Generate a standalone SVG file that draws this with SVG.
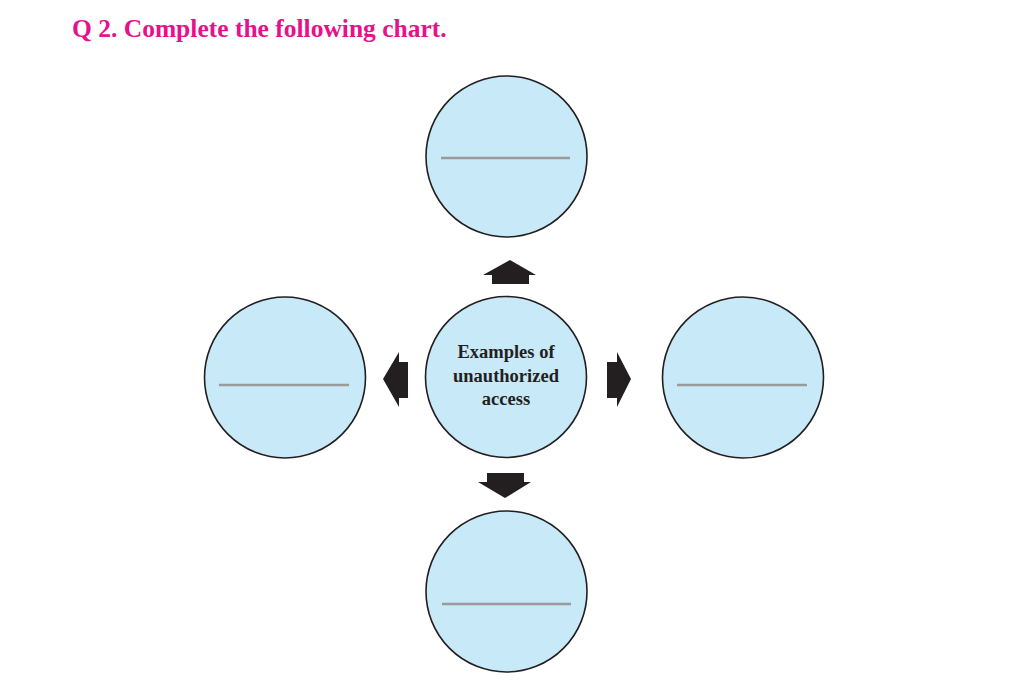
<svg xmlns="http://www.w3.org/2000/svg" width="1024" height="689" viewBox="0 0 1024 689">
<style>
.bg{fill:#ffffff}
.title{font-family:"Liberation Serif","Times New Roman",serif;font-weight:bold;font-size:25.5px;fill:#E8118C}
.node{fill:#C7E9F8;stroke:#231F20;stroke-width:1.6}
.blank{stroke:#9A9A9A;stroke-width:2.5;fill:none}
.label{font-family:"Liberation Serif","Times New Roman",serif;font-weight:bold;font-size:18.5px;fill:#231F20;text-anchor:middle}
.arrow{fill:#231F20}
</style>
<rect class="bg" x="0" y="0" width="1024" height="689"/>
<text class="title" x="72" y="37">Q 2. Complete the following chart.</text>

<g id="center">
<circle class="node" cx="506" cy="377" r="80.5"/>
<text class="label" x="506" y="358">Examples of</text>
<text class="label" x="506" y="381.5">unauthorized</text>
<text class="label" x="506" y="405">access</text>
</g>

<g id="top">
<circle class="node" cx="506.5" cy="156.5" r="80.5"/>
<line class="blank" x1="441" y1="158" x2="570" y2="158"/>
</g>

<g id="bottom">
<circle class="node" cx="506.5" cy="591.5" r="80.5"/>
<line class="blank" x1="442" y1="604" x2="571" y2="604"/>
</g>

<g id="left">
<circle class="node" cx="285" cy="377.5" r="80.5"/>
<line class="blank" x1="219" y1="385" x2="349" y2="385"/>
</g>

<g id="right">
<circle class="node" cx="743" cy="377.5" r="80.5"/>
<line class="blank" x1="677" y1="385" x2="807" y2="385"/>
</g>

<g id="connectors">
<polygon class="arrow" points="510,260 536,275 529,275 529,284 492,284 492,275 483,275"/>
<polygon class="arrow" points="487,473 524,473 524,482 531,482 505,498 478,482 487,482"/>
<polygon class="arrow" points="383,379 399,352 399,362 408,362 408,398 399,398 399,407"/>
<polygon class="arrow" points="607,362 617,362 617,352 631,379 617,407 617,398 607,398"/>
</g>
</svg>
